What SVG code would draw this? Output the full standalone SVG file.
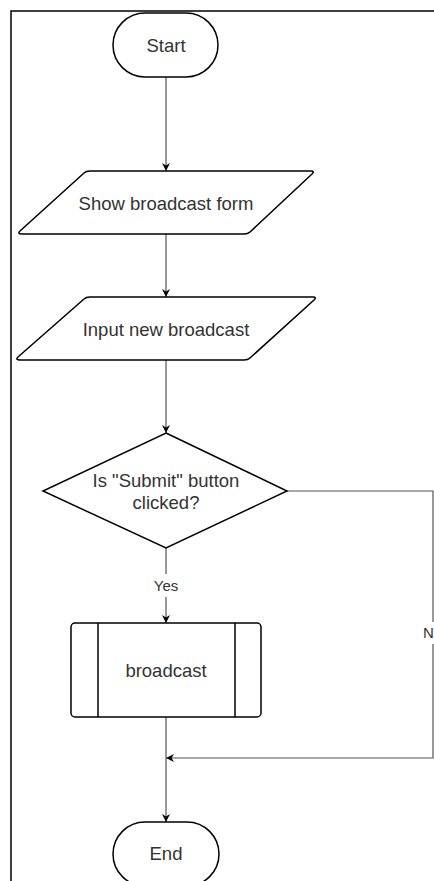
<svg xmlns="http://www.w3.org/2000/svg" width="434" height="881" viewBox="0 0 434 881">
  <style>
    .shape { fill: #ffffff; stroke: #000000; stroke-width: 1.5; }
    .edge { fill: none; stroke: #555555; stroke-width: 1.2; }
    .lbl { font-family: "Liberation Sans", Arial, sans-serif; font-size: 18.5px; fill: #333333; text-anchor: middle; }
    .elbl { font-family: "Liberation Sans", Arial, sans-serif; font-size: 15px; fill: #333333; }
  </style>
  <defs>
    <marker id="arrow" viewBox="0 0 10 10" refX="10" refY="5" markerWidth="8" markerHeight="8" markerUnits="userSpaceOnUse" orient="auto">
      <path d="M0,0 L10,5 L0,10 L3,5 Z" fill="#000000"/>
    </marker>
  </defs>
  <rect width="434" height="881" fill="#ffffff"/>
  <!-- outer frame -->
  <path d="M11,881 L11,11 L434,11" fill="none" stroke="#000000" stroke-width="1.5"/>

  <g id="connectors">
    <line class="edge" x1="166" y1="77" x2="166" y2="171" marker-end="url(#arrow)"/>
    <line class="edge" x1="166" y1="234" x2="166" y2="297" marker-end="url(#arrow)"/>
    <line class="edge" x1="166" y1="360" x2="166" y2="433" marker-end="url(#arrow)"/>
    <line class="edge" x1="166" y1="548" x2="166" y2="623" marker-end="url(#arrow)"/>
    <polyline class="edge" points="287,491 433,491 433,758 166,758" marker-end="url(#arrow)"/>
    <line class="edge" x1="166" y1="717" x2="166" y2="822" marker-end="url(#arrow)"/>
    <rect x="151" y="574" width="30" height="23" fill="#ffffff"/>
    <text class="elbl" x="166" y="591" text-anchor="middle">Yes</text>
    <rect x="421" y="622" width="20" height="22" fill="#ffffff"/>
    <text class="elbl" x="423" y="638">No</text>
  </g>

  <g id="start">
    <rect class="shape" x="113" y="13" width="105" height="64" rx="32" ry="32"/>
    <text class="lbl" x="166" y="52">Start</text>
  </g>

  <g id="show-form">
    <path class="shape" d="M90,171 L311,171 Q315,171 312,174 L250,232 Q248,234 244,234 L22,234 Q17,234 20,231 L84,173 Q86,171 90,171 Z"/>
    <text class="lbl" x="166" y="210">Show broadcast form</text>
  </g>

  <g id="input-broadcast">
    <path class="shape" d="M90,297 L313,297 Q317,297 314,300 L250,358 Q248,360 244,360 L20,360 Q15,360 18,357 L84,299 Q86,297 90,297 Z"/>
    <text class="lbl" x="166" y="336">Input new broadcast</text>
  </g>

  <g id="decision">
    <polygon class="shape" points="166,433 287,491 166,548 43,491"/>
    <text class="lbl" x="166" y="487">Is "Submit" button</text>
    <text class="lbl" x="166" y="509">clicked?</text>
  </g>

  <g id="broadcast">
    <rect class="shape" x="71" y="623" width="190" height="94" rx="4" ry="4"/>
    <line class="shape" x1="98" y1="623" x2="98" y2="717"/>
    <line class="shape" x1="235" y1="623" x2="235" y2="717"/>
    <text class="lbl" x="166" y="677">broadcast</text>
  </g>

  <g id="end">
    <rect class="shape" x="113" y="822" width="106" height="64" rx="32" ry="32"/>
    <text class="lbl" x="166" y="860">End</text>
  </g>
</svg>
